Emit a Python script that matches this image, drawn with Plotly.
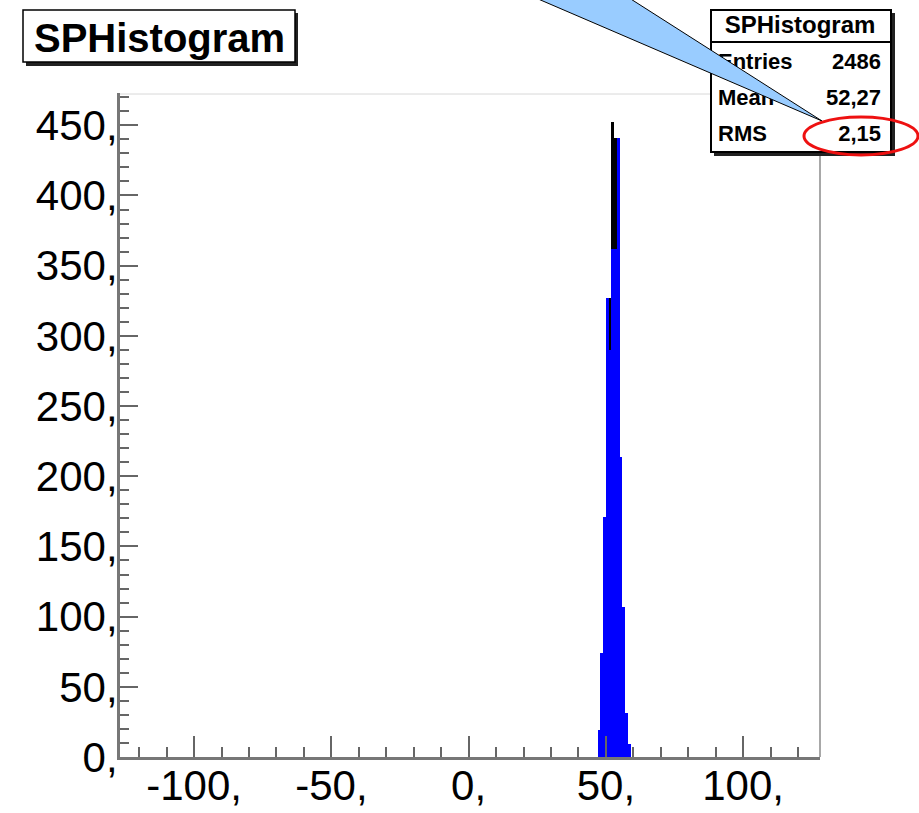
import plotly.graph_objects as go

# ---------------- data ----------------
bin_low = [47, 48, 49, 50, 51, 52, 53, 54, 55, 56, 57, 58]          # lower bin edges (width 1)
blue_counts = [19, 74, 171, 327, 290, 362, 362, 441, 214, 107, 31, 9]
black_counts = [19, 74, 171, 327, 327, 452, 441, 441, 214, 107, 31, 9]

x_tickvals = [-100, -50, 0, 50, 100]
x_ticktext = ["-100,", "-50,", "0,", "50,", "100,"]
y_tickvals = [0, 50, 100, 150, 200, 250, 300, 350, 400, 450]
y_ticktext = ["0,", "50,", "100,", "150,", "200,", "250,", "300,", "350,", "400,", "450,"]

title_text = "SPHistogram"
stat_labels = ["Entries", "Mean", "RMS"]
stat_values = ["2486", "52,27", "2,15"]

# ---------------- geometry (figure pixels) ----------------
W, H = 919, 813
PL, PR, PT, PB = 120, 820, 93, 757      # plot frame


def fx(x):
    return x / W


def fy(y):
    return 1 - y / H


FONT = "Liberation Sans, Arial, sans-serif"
centers = [b + 0.5 for b in bin_low]

fig = go.Figure()
fig.add_trace(go.Bar(x=centers, y=black_counts, width=1, marker=dict(color="#000000", line=dict(width=0)),
                     showlegend=False, hoverinfo="skip"))
fig.add_trace(go.Bar(x=centers, y=blue_counts, width=1, marker=dict(color="#0000ff", line=dict(width=0)),
                     showlegend=False, hoverinfo="skip"))

# stats box text on a full-figure pixel subplot (so the callout shape can sit above it)
row_y = [63, 99, 135]
txt = dict(family=FONT, size=22, color="black", weight="bold")
fig.add_trace(go.Scatter(x=[718] * 3, y=row_y, mode="text", text=stat_labels, textposition="middle right",
                         textfont=txt, xaxis="x2", yaxis="y2", cliponaxis=False,
                         showlegend=False, hoverinfo="skip"))
fig.add_trace(go.Scatter(x=[881] * 3, y=row_y, mode="text", text=stat_values, textposition="middle left",
                         textfont=txt, xaxis="x2", yaxis="y2", cliponaxis=False,
                         showlegend=False, hoverinfo="skip"))
fig.add_trace(go.Scatter(x=[800], y=[27], mode="text", text=[title_text], textposition="middle center",
                         textfont=dict(family=FONT, size=24, color="black", weight="bold"),
                         xaxis="x2", yaxis="y2", cliponaxis=False, showlegend=False, hoverinfo="skip"))

shapes = []
# frame (top / right)
shapes.append(dict(type="line", xref="paper", yref="paper", x0=fx(PL), x1=fx(PR), y0=fy(94), y1=fy(94),
                   line=dict(color="#d8d8d8", width=1), layer="below"))
shapes.append(dict(type="line", xref="paper", yref="paper", x0=fx(PR), x1=fx(PR), y0=fy(PT), y1=fy(PB),
                   line=dict(color="#a8a8a8", width=2), layer="below"))
# title box
shapes.append(dict(type="rect", xref="paper", yref="paper", x0=fx(26), x1=fx(298), y0=fy(66), y1=fy(13),
                   fillcolor="#222222", line=dict(width=0), layer="below"))
shapes.append(dict(type="rect", xref="paper", yref="paper", x0=fx(23), x1=fx(295), y0=fy(62), y1=fy(10),
                   fillcolor="white", line=dict(color="black", width=1.5), layer="below"))
# stats box
shapes.append(dict(type="rect", xref="paper", yref="paper", x0=fx(714), x1=fx(895), y0=fy(156), y1=fy(13),
                   fillcolor="#222222", line=dict(width=0), layer="below"))
shapes.append(dict(type="rect", xref="paper", yref="paper", x0=fx(711), x1=fx(891), y0=fy(152), y1=fy(10),
                   fillcolor="white", line=dict(color="black", width=2), layer="below"))
shapes.append(dict(type="line", xref="paper", yref="paper", x0=fx(711), x1=fx(891), y0=fy(42), y1=fy(42),
                   line=dict(color="black", width=2), layer="below"))
# callout
pts = [(494, -20), (601, -20), (822, 121)]
path = "M " + " L ".join(f"{fx(a):.5f},{fy(b):.5f}" for a, b in pts) + " Z"
shapes.append(dict(type="path", xref="paper", yref="paper", path=path, fillcolor="#99ccff",
                   line=dict(color="black", width=1), layer="above"))
# red ellipse
shapes.append(dict(type="circle", xref="paper", yref="paper", x0=fx(804), x1=fx(918), y0=fy(155), y1=fy(117),
                   line=dict(color="#ee1111", width=3), layer="above"))

fig.update_layout(
    width=W, height=H,
    margin=dict(l=0, r=0, t=0, b=0, pad=0, autoexpand=False),
    paper_bgcolor="white", plot_bgcolor="rgba(0,0,0,0)",
    barmode="overlay", bargap=0,
    showlegend=False,
    shapes=shapes,
    annotations=[dict(text=title_text, xref="paper", yref="paper", x=fx(159), y=fy(38),
                      xanchor="center", yanchor="middle", showarrow=False,
                      font=dict(family=FONT, size=40, color="black", weight="bold"))],
    xaxis=dict(domain=[fx(PL), fx(PR)], anchor="y", range=[-127, 128], tickvals=x_tickvals,
               ticktext=x_ticktext, ticks="inside", ticklen=21,
               tickwidth=2, tickcolor="#666666", showline=True, linecolor="#777777", linewidth=3,
               showgrid=False, zeroline=False, tickfont=dict(family=FONT, size=42, color="black"),
               minor=dict(tick0=0, dtick=10, ticks="inside", ticklen=10, tickwidth=2, tickcolor="#666666"),
               ticklabelstandoff=-10, automargin=False, fixedrange=True),
    yaxis=dict(domain=[fy(PB), fy(PT)], anchor="x", range=[0, 473], tickvals=y_tickvals,
               ticktext=y_ticktext, ticks="inside", ticklen=18,
               tickwidth=2, tickcolor="#666666", showline=True, linecolor="#777777", linewidth=3,
               showgrid=False, zeroline=False, tickfont=dict(family=FONT, size=42, color="black"),
               minor=dict(tick0=0, dtick=10, ticks="inside", ticklen=9, tickwidth=2, tickcolor="#666666"),
               ticklabelstandoff=-9, automargin=False, fixedrange=True),
    xaxis2=dict(domain=[0, 1], anchor="y2", range=[0, W], visible=False, fixedrange=True, automargin=False),
    yaxis2=dict(domain=[0, 1], anchor="x2", range=[H, 0], visible=False, fixedrange=True, automargin=False),
)

fig.write_html("out.html", config={"displayModeBar": False})
